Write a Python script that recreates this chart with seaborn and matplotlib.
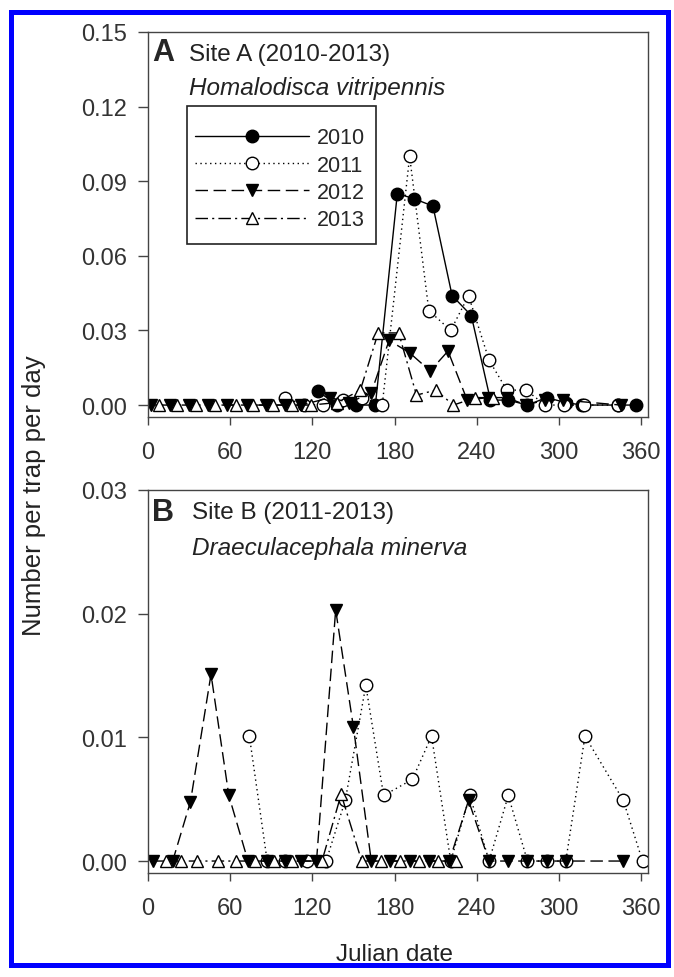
import matplotlib
matplotlib.use("Agg")
import matplotlib.pyplot as plt
from matplotlib import font_manager
from matplotlib.patches import Rectangle
from matplotlib.ticker import FormatStrFormatter
import seaborn as sns

# ── Data (Julian date, number per trap per day) ───────────────────────────────
# Site A, Homalodisca vitripennis
a2010_day = [124, 138, 152, 166, 182, 194, 208, 222, 236, 250, 263, 277, 291, 305, 317, 343, 356]
a2010_val = [0.0056, 0.0, 0.0, 0.0, 0.085, 0.083, 0.080, 0.044, 0.036, 0.002, 0.002, 0.0,
             0.003, 0.001, 0.0, 0.0, 0.0]

a2011_day = [100, 114, 128, 142, 156, 171, 191, 205, 221, 234, 249, 262, 276, 290, 304, 318, 343]
a2011_val = [0.003, 0.0, 0.0, 0.002, 0.003, 0.0, 0.100, 0.038, 0.030, 0.044, 0.018, 0.006,
             0.006, 0.0, 0.0, 0.0, 0.0]

a2012_day = [2, 16, 30, 44, 58, 72, 86, 100, 112, 133, 147, 163, 176, 191, 206, 219, 233,
             248, 262, 276, 290, 303, 345]
a2012_val = [0.0, 0.0, 0.0, 0.0, 0.0, 0.0, 0.0, 0.0, 0.0, 0.003, 0.001, 0.005, 0.026, 0.021,
             0.0137, 0.0217, 0.002, 0.003, 0.003, 0.0, 0.002, 0.002, 0.0]

a2013_day = [8, 21, 35, 49, 64, 77, 91, 105, 119, 138, 155, 168, 183, 196, 210, 223, 239, 252]
a2013_val = [0.0, 0.0, 0.0, 0.0, 0.0, 0.0, 0.0, 0.0, 0.0, 0.001, 0.006, 0.029, 0.029, 0.004,
             0.006, 0.0, 0.003, 0.003]

# Site B, Draeculacephala minerva
b2011_day = [74, 87, 100, 116, 130, 144, 159, 172, 193, 207, 221, 235, 249, 263, 277, 291,
             305, 319, 347, 361]
b2011_val = [0.0101, 0.0, 0.0, 0.0, 0.0, 0.0049, 0.0142, 0.0053, 0.0066, 0.0101, 0.0, 0.0053,
             0.0, 0.0053, 0.0, 0.0, 0.0, 0.0101, 0.0049, 0.0]

b2012_day = [4, 18, 31, 46, 59, 73, 87, 100, 112, 123, 137, 150, 163, 177, 191, 205, 220, 234,
             249, 263, 277, 291, 305, 347]
b2012_val = [0.0, 0.0, 0.0048, 0.0151, 0.0053, 0.0, 0.0, 0.0, 0.0, 0.0, 0.0203, 0.0108, 0.0,
             0.0, 0.0, 0.0, 0.0, 0.0049, 0.0, 0.0, 0.0, 0.0, 0.0, 0.0]

b2013_day = [13, 24, 36, 51, 64, 78, 92, 105, 127, 141, 156, 170, 184, 198, 212, 225]
b2013_val = [0.0, 0.0, 0.0, 0.0, 0.0, 0.0, 0.0, 0.0, 0.0, 0.0054, 0.0, 0.0, 0.0, 0.0, 0.0, 0.0]

x_ticks = [0, 60, 120, 180, 240, 300, 360]
a_yticks = [0.0, 0.03, 0.06, 0.09, 0.12, 0.15]
b_yticks = [0.0, 0.01, 0.02, 0.03]

# ── Style ─────────────────────────────────────────────────────────────────────
sns.set_theme(style="ticks")
installed = {f.name for f in font_manager.fontManager.ttflist}
BASE_FONT = "Liberation Sans" if "Liberation Sans" in installed else "DejaVu Sans"
plt.rcParams.update({
    "font.family": [BASE_FONT, "DejaVu Sans"],
    "axes.edgecolor": "#444444",
    "axes.linewidth": 1.0,
    "xtick.color": "#444444", "ytick.color": "#444444",
    "xtick.labelcolor": "#333333", "ytick.labelcolor": "#333333",
    "xtick.direction": "out", "ytick.direction": "out",
    "xtick.major.size": 6, "ytick.major.size": 7,
    "xtick.major.width": 1.0, "ytick.major.width": 1.0,
    "xtick.major.pad": 11, "ytick.major.pad": 8,
    "xtick.labelsize": 17, "ytick.labelsize": 17,
})

# marker, face colour, linestyle per year
SERIES = {
    "2010": ("o", "black", "-"),
    "2011": ("o", "white", (0, (1, 2.5))),
    "2012": ("v", "black", (0, (9, 4))),
    "2013": ("^", "white", (0, (9, 3, 1.5, 3))),
}

fig = plt.figure(figsize=(6.74, 9.78), dpi=100)
ax_a = fig.add_axes([0.2196, 0.5726, 0.7418, 0.3937])
ax_b = fig.add_axes([0.2196, 0.1063, 0.7418, 0.3917])


def draw(ax, year, days, vals):
    marker, face, ls = SERIES[year]
    sns.lineplot(x=days, y=vals, ax=ax, errorbar=None, color="black", linewidth=1.0,
                 linestyle=ls, marker=marker, markersize=9, markerfacecolor=face,
                 markeredgecolor="black", markeredgewidth=1.0, label=year)


draw(ax_a, "2010", a2010_day, a2010_val)
draw(ax_a, "2011", a2011_day, a2011_val)
draw(ax_a, "2012", a2012_day, a2012_val)
draw(ax_a, "2013", a2013_day, a2013_val)

draw(ax_b, "2011", b2011_day, b2011_val)
draw(ax_b, "2012", b2012_day, b2012_val)
draw(ax_b, "2013", b2013_day, b2013_val)

for ax, yticks, ylo in [(ax_a, a_yticks, -0.0048), (ax_b, b_yticks, -0.00097)]:
    ax.set_xlim(0, 365)
    ax.set_ylim(ylo, yticks[-1])
    ax.set_xticks(x_ticks)
    ax.set_yticks(yticks)
    ax.yaxis.set_major_formatter(FormatStrFormatter("%.2f"))
    ax.set_xlabel("")
    ax.set_ylabel("")
    ax.tick_params(top=False, right=False)
    for s in ax.spines.values():
        s.set_visible(True)

ax_b.get_legend().remove()
# legend entries without a frame, the box is drawn separately (it has uneven padding)
ax_a.legend(loc="upper left", bbox_to_anchor=(0.094, 0.753), borderaxespad=0,
            borderpad=0, frameon=False, fontsize=15.5, handlelength=5.3, numpoints=1,
            labelspacing=0.3, handletextpad=0.35)
ax_a.add_patch(Rectangle((0.078, 0.449), 0.378, 0.359, transform=ax_a.transAxes,
                         fill=False, edgecolor="#222222", linewidth=1.2, zorder=5))

# Panel annotations
ax_a.text(0.008, 0.948, "A", transform=ax_a.transAxes, fontsize=22, fontweight="bold",
          va="center", ha="left")
ax_a.text(0.082, 0.942, "Site A (2010-2013)", transform=ax_a.transAxes, fontsize=17.5,
          va="center", ha="left", color="#222222")
ax_a.text(0.082, 0.855, "Homalodisca vitripennis", transform=ax_a.transAxes, fontsize=17.5,
          style="italic", va="center", ha="left", color="#222222")

ax_b.text(0.008, 0.943, "B", transform=ax_b.transAxes, fontsize=22, fontweight="bold",
          va="center", ha="left")
ax_b.text(0.088, 0.943, "Site B (2011-2013)", transform=ax_b.transAxes, fontsize=17.5,
          va="center", ha="left", color="#222222")
ax_b.text(0.088, 0.851, "Draeculacephala minerva", transform=ax_b.transAxes, fontsize=17.5,
          style="italic", va="center", ha="left", color="#222222")

fig.text(34 / 674, 1 - 496 / 978, "Number per trap per day", rotation=90, fontsize=18.5,
         ha="center", va="center", color="#222222")
fig.text(395 / 674, 1 - 955 / 978, "Julian date", fontsize=17.5, ha="center", va="center",
         color="#222222")

# Blue frame around the whole figure
fig.patches.append(Rectangle((10.5 / 674, 1 - 966 / 978), 657 / 674, 953.5 / 978,
                             transform=fig.transFigure, fill=False, edgecolor="#0000ff",
                             linewidth=3.6, zorder=10))

fig.savefig("out.png", dpi=100, facecolor="white")
